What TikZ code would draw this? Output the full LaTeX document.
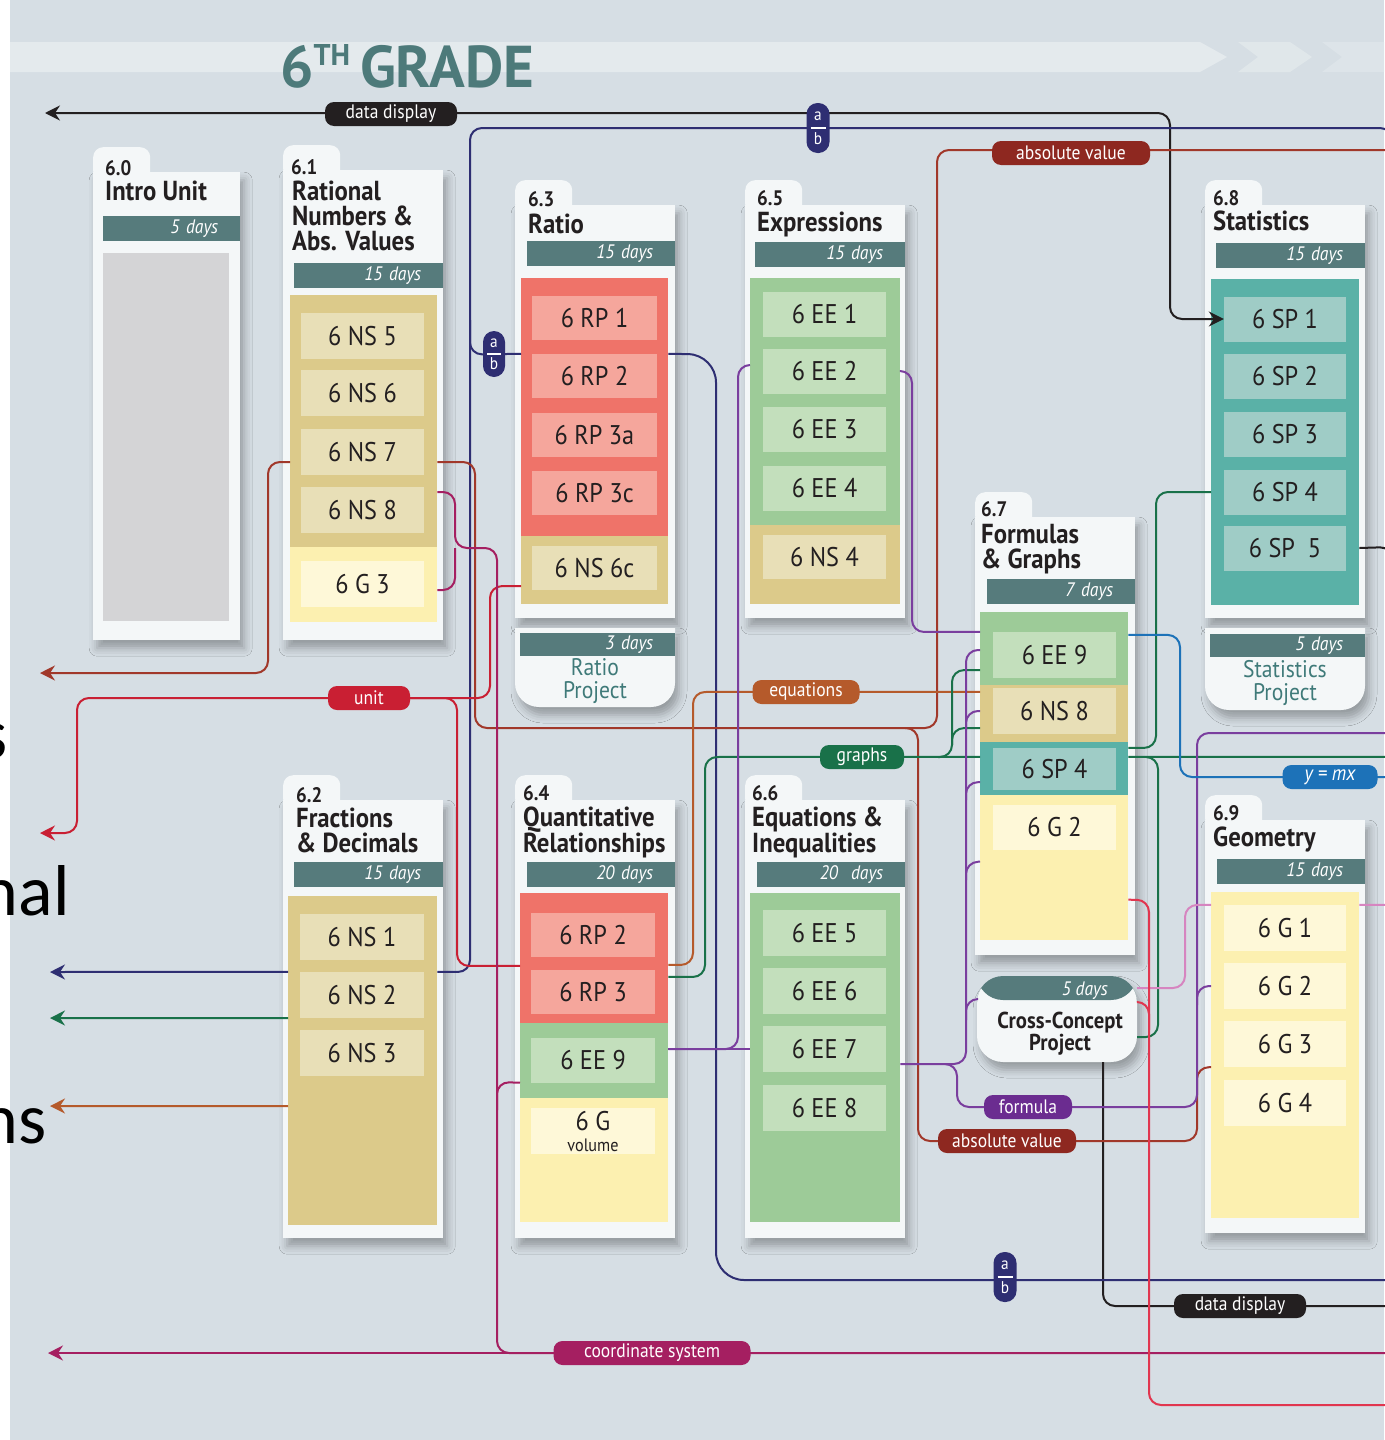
\documentclass[tikz,border=0pt]{standalone}
\usepackage{fontspec}
\setmainfont{PT Sans}[FakeStretch=0.9]
\newfontfamily\titlefont{PT Sans}
\newfontfamily\slidefont{Carlito}
\usepackage{xcolor}
\usepackage{tikz}
\usetikzlibrary{arrows.meta,shadows.blur}
\definecolor{bgc}{HTML}{D6DEE4}
\definecolor{bandc}{HTML}{E4EAED}
\definecolor{cardw}{HTML}{F4F7F8}
\definecolor{barc}{HTML}{567B7C}
\definecolor{ttl}{HTML}{4D7A7A}
\definecolor{projt}{HTML}{3F7A79}
\definecolor{ink}{HTML}{231F20}
\definecolor{introg}{HTML}{D4D4D6}
\definecolor{nsout}{HTML}{DCCA8A}
\definecolor{nsin}{HTML}{E8DFB7}
\definecolor{rpout}{HTML}{EF7369}
\definecolor{rpin}{HTML}{F5A69C}
\definecolor{eeout}{HTML}{9DCB98}
\definecolor{eein}{HTML}{C3DFBC}
\definecolor{spout}{HTML}{5AB1A7}
\definecolor{spin}{HTML}{9FCCC6}
\definecolor{gout}{HTML}{FCF0B0}
\definecolor{gin}{HTML}{FEF8D8}
\definecolor{cblk}{HTML}{231F20}
\definecolor{cnavy}{HTML}{2E2E72}
\definecolor{cabs}{HTML}{A1382A}
\definecolor{cabsd}{HTML}{8E2820}
\definecolor{cunit}{HTML}{C91F33}
\definecolor{ccoord}{HTML}{A51F61}
\definecolor{ceq}{HTML}{B55A2B}
\definecolor{cgr}{HTML}{197149}
\definecolor{cpur}{HTML}{7A3E9E}
\definecolor{cpurd}{HTML}{6B2C90}
\definecolor{cbl}{HTML}{1D72B8}
\definecolor{cpk}{HTML}{D685C0}
\definecolor{ccr}{HTML}{E1364F}
\tikzset{
  cardshadow/.style={blur shadow={shadow xshift=4pt,shadow yshift=-8pt,shadow blur radius=8pt,shadow opacity=30}},
  unittab/.style={rectangle,fill=cardw,rounded corners=10pt,inner sep=0pt,anchor=north west,
              minimum width=57pt,minimum height=34pt},
  unitbody/.style={rectangle,fill=cardw,inner sep=0pt,anchor=north west,cardshadow},
  block/.style={rectangle,inner sep=0pt,anchor=north west},
  unum/.style={anchor=base west,inner sep=0pt,text=ink,font=\bfseries\fontsize{21}{21}\selectfont},
  utitle/.style={anchor=base west,inner sep=0pt,text=ink,font=\bfseries\fontsize{27.5}{25}\selectfont},
  days/.style={rectangle,fill=barc,text=white,anchor=north west,minimum height=25pt,inner ysep=0pt,
              inner xsep=22pt,align=right,font=\itshape\fontsize{19.5}{19.5}\selectfont},
  std/.style={rectangle,inner sep=0pt,minimum width=123pt,minimum height=46pt,text=ink,
              font=\fontsize{27}{27}\selectfont},
  nsbox/.style={std,fill=nsin},
  rpbox/.style={std,fill=rpin,minimum height=44pt},
  eebox/.style={std,fill=eein,minimum height=45pt},
  spbox/.style={std,fill=spin,minimum width=122pt,minimum height=45pt},
  gbox/.style={std,fill=gin},
  projtext/.style={align=center,inner sep=0pt,text=projt,font=\fontsize{24}{23}\selectfont},
  tag/.style={rectangle,rounded corners=9pt,text=white,inner sep=0pt,minimum height=24pt,
              font=\fontsize{19.5}{19.5}\selectfont},
  fracbadge/.style={rectangle,rounded corners=11pt,fill=cnavy,text=white,inner sep=0pt,
              minimum width=23pt,minimum height=50pt,align=center,font=\fontsize{17}{17}\selectfont,
              path picture={\draw[white,line width=1.2pt] ([xshift=4pt]path picture bounding box.west)
                -- ([xshift=-4pt]path picture bounding box.east);}},
  link/.style={line width=2pt,rounded corners=12pt},
  frag/.style={anchor=base east,inner sep=0pt,text=black,font=\slidefont\fontsize{72}{72}\selectfont},
}
\begin{document}
\begin{tikzpicture}[x=1pt,y=-1pt,>={Stealth[length=15pt,width=15pt,inset=5pt]}]
  \useasboundingbox (0,0) rectangle (1384,1440);
  \fill[bgc] (0,0) rectangle (1384,1440);
  \fill[white] (0,0) rectangle (10,1440);

  % header band
  \fill[bandc] (10,42) -- (1200,42) -- (1227,57) -- (1200,72) -- (10,72) -- cycle;
  \fill[bandc!70!bgc] (1238,42) -- (1290,42) -- (1312,57) -- (1290,72) -- (1238,72) -- (1258,57) -- cycle;
  \fill[bandc!50!bgc] (1322,42) -- (1384,42) -- (1384,72) -- (1322,72) -- (1342,57) -- cycle;
  \node[anchor=base west,inner sep=0pt,text=ttl,font=\titlefont\bfseries\fontsize{59}{59}\selectfont] (grade) at (280,87)
    {6\raisebox{22pt}{\fontsize{30}{30}\selectfont TH}\,GRADE};

  % cut-off words at the left edge
  \node[frag] (frag1) at (8,758) {s};
  \node[frag] (frag2) at (70,915) {nal};
  \node[frag] (frag3) at (47,1143) {ns};

  % unit cards
  \node[unittab] (t60) at (93,147) {};
  \node[unitbody,minimum width=147pt,minimum height=468pt] (c60) at (93,172) {};
  \node[unittab] (t61) at (283,145) {};
  \node[unitbody,minimum width=160pt,minimum height=470pt] (c61) at (283,170) {};
  \node[unittab] (t63) at (515,180) {};
  \node[unitbody,minimum width=160pt,minimum height=413pt] (c63) at (515,205) {};
  \node[unittab] (t65) at (745,180) {};
  \node[unitbody,minimum width=160pt,minimum height=413pt] (c65) at (745,205) {};
  \node[unittab] (t68) at (1205,180) {};
  \node[unitbody,minimum width=160pt,minimum height=413pt] (c68) at (1205,205) {};
  \node[unittab] (t67) at (975,492) {};
  \node[unitbody,minimum width=160pt,minimum height=438pt] (c67) at (975,517) {};
  \node[unittab] (t62) at (283,775) {};
  \node[unitbody,minimum width=160pt,minimum height=438pt] (c62) at (283,800) {};
  \node[unittab] (t64) at (515,775) {};
  \node[unitbody,minimum width=160pt,minimum height=438pt] (c64) at (515,800) {};
  \node[unittab] (t66) at (745,775) {};
  \node[unitbody,minimum width=160pt,minimum height=438pt] (c66) at (745,800) {};
  \node[unittab] (t69) at (1205,795) {};
  \node[unitbody,minimum width=160pt,minimum height=413pt] (c69) at (1205,820) {};

  % project cards
  \fill[cardw,cardshadow] (515,628) -- (675,628) -- (675,683) arc[start angle=0,end angle=-90,radius=24pt]
    -- (539,707) arc[start angle=-90,end angle=-180,radius=24pt] -- cycle;
  \fill[cardw,cardshadow] (1205,628) -- (1365,628) -- (1365,686) arc[start angle=0,end angle=-90,radius=24pt]
    -- (1229,710) arc[start angle=-90,end angle=-180,radius=24pt] -- cycle;
  \node[rectangle,fill=cardw,rounded corners=26pt,minimum width=160pt,minimum height=86pt,inner sep=0pt,cardshadow,
        path picture={\fill[barc] ([yshift=-24pt]path picture bounding box.north west)
          rectangle (path picture bounding box.north east);}] (xproj) at (1057,1019) {};

  % titles
  \node[unum] (n60) at (105,175) {6.0};
  \node[utitle] (h60) at (105,200) {Intro Unit};
  \node[unum] (n61) at (291,174) {6.1};
  \node[utitle] (h61) at (292,200) {\vtop{\hbox{Rational}\hbox{Numbers \&}\hbox{Abs. Values}}};
  \node[unum] (n63) at (528,206) {6.3};
  \node[utitle] (h63) at (528,233) {Ratio};
  \node[unum] (n65) at (757,205) {6.5};
  \node[utitle] (h65) at (757,231) {Expressions};
  \node[unum] (n68) at (1213,205) {6.8};
  \node[utitle] (h68) at (1213,230) {Statistics};
  \node[unum] (n67) at (981,516) {6.7};
  \node[utitle] (h67) at (981,543) {\vtop{\hbox{Formulas}\hbox{\& Graphs}}};
  \node[unum] (n62) at (296,802) {6.2};
  \node[utitle] (h62) at (296,827) {\vtop{\hbox{Fractions}\hbox{\& Decimals}}};
  \node[unum] (n64) at (523,800) {6.4};
  \node[utitle] (h64) at (523,826) {\vtop{\hbox{Quantitative}\hbox{Relationships}}};
  \node[unum] (n66) at (752,800) {6.6};
  \node[utitle] (h66) at (752,826) {\vtop{\hbox{Equations \&}\hbox{Inequalities}}};
  \node[unum] (n69) at (1213,820) {6.9};
  \node[utitle] (h69) at (1213,846) {Geometry};

  % day bars
  \node[days,text width=93pt] (d60) at (103,216) {5 days};
  \node[days,text width=105pt] (d61) at (294,263) {15 days};
  \node[days,text width=104pt] (d63) at (527,241) {15 days};
  \node[days,text width=106pt] (d65) at (755,242) {15 days};
  \node[days,text width=105pt] (d68) at (1216,243) {15 days};
  \node[days,text width=104pt] (d67) at (987,579) {7 days};
  \node[days,text width=105pt] (d62) at (294,862) {15 days};
  \node[days,text width=104pt] (d64) at (527,862) {20 days};
  \node[days,text width=104pt] (d66) at (757,862) {20\ \ days};
  \node[days,text width=104pt] (d69) at (1217,859) {15 days};
  \node[days,text width=111pt,minimum height=23pt] (drp) at (520,633) {3 days};
  \node[days,text width=111pt,minimum height=23pt] (dsp) at (1210,634) {5 days};
  \node[anchor=base east,inner sep=0pt,text=white,font=\itshape\fontsize{19.5}{19.5}\selectfont] (dxp) at (1108,995) {5 days};

  % project texts
  \node[projtext] (rproj) at (595,681) {Ratio\\Project};
  \node[projtext] (sproj) at (1285,683) {Statistics\\Project};
  \node[align=center,inner sep=0pt,text=ink,font=\bfseries\fontsize{23}{22}\selectfont] (xprojl) at (1060,1034)
    {Cross-Concept\\Project};

  % content blocks
  \node[block,fill=introg,minimum width=126pt,minimum height=368pt] (b60) at (103,253) {};
  \node[block,fill=nsout,minimum width=147pt,minimum height=252pt] (b61a) at (290,295) {};
  \node[block,fill=gout,minimum width=147pt,minimum height=75pt] (b61b) at (290,547) {};
  \node[block,fill=rpout,minimum width=147pt,minimum height=258pt] (b63a) at (521,278) {};
  \node[block,fill=nsout,minimum width=147pt,minimum height=68pt] (b63b) at (521,536) {};
  \node[block,fill=eeout,minimum width=150pt,minimum height=247pt] (b65a) at (750,278) {};
  \node[block,fill=nsout,minimum width=150pt,minimum height=79pt] (b65b) at (750,525) {};
  \node[block,fill=spout,minimum width=148pt,minimum height=326pt] (b68) at (1211,279) {};
  \node[block,fill=eeout,minimum width=148pt,minimum height=73pt] (b67a) at (980,612) {};
  \node[block,fill=nsout,minimum width=148pt,minimum height=57pt] (b67b) at (980,685) {};
  \node[block,fill=spout,minimum width=148pt,minimum height=53pt] (b67c) at (980,742) {};
  \node[block,fill=gout,minimum width=148pt,minimum height=145pt] (b67d) at (980,795) {};
  \node[block,fill=nsout,minimum width=149pt,minimum height=329pt] (b62) at (288,896) {};
  \node[block,fill=rpout,minimum width=148pt,minimum height=130pt] (b64a) at (520,893) {};
  \node[block,fill=eeout,minimum width=148pt,minimum height=75pt] (b64b) at (520,1023) {};
  \node[block,fill=gout,minimum width=148pt,minimum height=124pt] (b64c) at (520,1098) {};
  \node[block,fill=eeout,minimum width=150pt,minimum height=329pt] (b66) at (750,893) {};
  \node[block,fill=gout,minimum width=148pt,minimum height=326pt] (b69) at (1211,892) {};

  % standards
  \node[nsbox] (ns5) at (362.5,336) {6 NS 5};
  \node[nsbox] (ns6) at (362.5,393) {6 NS 6};
  \node[nsbox] (ns7) at (362.5,452) {6 NS 7};
  \node[nsbox] (ns8) at (362.5,510) {6 NS 8};
  \node[gbox] (g3a) at (362.5,584) {6 G 3};
  \node[rpbox,minimum width=125pt] (rp1) at (594.5,318) {6 RP 1};
  \node[rpbox,minimum width=125pt] (rp2) at (594.5,376) {6 RP 2};
  \node[rpbox,minimum width=125pt] (rp3a) at (594.5,435) {6 RP 3a};
  \node[rpbox,minimum width=125pt] (rp3c) at (594.5,493) {6 RP 3c};
  \node[nsbox,minimum width=125pt,minimum height=44pt] (ns6c) at (594.5,568) {6 NS 6c};
  \node[eebox] (ee1) at (824.5,314) {6 EE 1};
  \node[eebox] (ee2) at (824.5,371) {6 EE 2};
  \node[eebox] (ee3) at (824.5,429) {6 EE 3};
  \node[eebox] (ee4) at (824.5,488) {6 EE 4};
  \node[nsbox,minimum height=44pt] (ns4) at (824.5,557) {6 NS 4};
  \node[spbox] (sp1) at (1285,319) {6 SP 1};
  \node[spbox] (sp2) at (1285,376) {6 SP 2};
  \node[spbox] (sp3) at (1285,434) {6 SP 3};
  \node[spbox] (sp4) at (1285,492) {6 SP 4};
  \node[spbox] (sp5) at (1285,548) {6 SP\ \ 5};
  \node[eebox,minimum height=46pt] (ee9a) at (1054.5,655) {6 EE 9};
  \node[nsbox] (ns8b) at (1054.5,711) {6 NS 8};
  \node[spbox,minimum width=123pt,minimum height=42pt] (sp4b) at (1054.5,769) {6 SP 4};
  \node[gbox,minimum height=45pt] (g2a) at (1054.5,827) {6 G 2};
  \node[nsbox,minimum width=124pt] (ns1) at (362,937) {6 NS 1};
  \node[nsbox,minimum width=124pt] (ns2) at (362,995) {6 NS 2};
  \node[nsbox,minimum width=124pt] (ns3) at (362,1053) {6 NS 3};
  \node[rpbox,minimum width=124pt] (rp2b) at (593,935) {6 RP 2};
  \node[rpbox,minimum width=124pt] (rp3) at (593,992) {6 RP 3};
  \node[eebox,minimum width=124pt] (ee9b) at (593,1060) {6 EE 9};
  \node[gbox,minimum width=124pt,align=center] (gvol) at (593,1131)
    {6 G\\[-6pt]{\fontsize{18}{18}\selectfont volume}};
  \node[eebox,minimum height=46pt] (ee5) at (824.5,933) {6 EE 5};
  \node[eebox,minimum height=46pt] (ee6) at (824.5,991) {6 EE 6};
  \node[eebox,minimum height=46pt] (ee7) at (824.5,1049) {6 EE 7};
  \node[eebox,minimum height=46pt] (ee8) at (824.5,1108) {6 EE 8};
  \node[gbox,minimum width=122pt] (g1) at (1285,928) {6 G 1};
  \node[gbox,minimum width=122pt] (g2) at (1285,986) {6 G 2};
  \node[gbox,minimum width=122pt] (g3) at (1285,1044) {6 G 3};
  \node[gbox,minimum width=122pt] (g4) at (1285,1103) {6 G 4};

  % free ends and junctions
  \coordinate (ddL) at (45,113);
  \coordinate (absL) at (40,673);
  \coordinate (unitL) at (40,833);
  \coordinate (navyL) at (50,972);
  \coordinate (grL) at (50,1018);
  \coordinate (eqL) at (50,1106);
  \coordinate (coordL) at (48,1353);
  \coordinate (absR) at (1400,150);
  \coordinate (purR) at (1400,733);
  \coordinate (grR) at (1400,757);
  \coordinate (ymxR) at (1400,777);
  \coordinate (pkR) at (1400,905);
  \coordinate (navyR) at (1400,1280);
  \coordinate (ddR) at (1400,1306);
  \coordinate (coordR) at (1400,1353);
  \coordinate (crR) at (1400,1405);
  \coordinate (absJ) at (905,728);
  \coordinate (grJ) at (938,757);
  \coordinate (grJ2) at (1146,757);
  \coordinate (purJ) at (945,1064);

  % data display
  \draw[link,cblk,<->] (ddL) -- (1170,113) |- (sp1.west);
  \draw[link,cblk] ([xshift=46pt]xproj.south) |- (ddR);
  \draw[link,cblk] (b68.east |- sp5) -- (1392,547) -- (1392,640);

  % a/b
  \draw[link,cnavy] (b62.east |- ns2.north) -- (470,972) -- (470,128) -- (1392,128) -- (1392,240);
  \draw[link,cnavy,->] (b62.west |- ns2.north) -- (navyL);
  \draw[link,cnavy] (b63a.west |- rp2.north) -- (470,354.5) -- (470,320);
  \draw[link,cnavy,rounded corners=28pt] (b63a.east |- rp2.north) -- (716,354.5) -- (716,1280) -- (navyR);

  % absolute value
  \draw[link,cabs] ([yshift=-10pt]b61a.east |- ns7) -- (475,462) -- (475,728) -- (937,728) -- (937,150) -- (absR);
  \draw[link,cabs] (absJ) -- (918,728) -- (918,1141) -- (1197,1141) -- (1197,1067) -- (b69.west |- g3.south);
  \draw[link,cabs,->] ([yshift=-10pt]b61a.west |- ns7) -- (268,462) -- (268,673) -- (absL);

  % unit
  \draw[link,cunit,->] ([yshift=4pt]b63b.west |- ns6c.south) -- (490,586) -- (490,698) -- (77,698) -- (77,833) -- (unitL);
  \draw[link,cunit] (410,698) -- (457,698) -- (457,966) -- ([yshift=4pt]b64a.west |- rp3.north);

  % coordinate system
  \draw[link,ccoord] ([yshift=18pt]b61a.east |- ns8) -- (455,492) -- (455,548) -- (497,548) -- (497,1353) -- (coordR);
  \draw[link,ccoord] ([yshift=-6pt]b61b.east |- g3a) -- (455,590) -- (455,548);
  \draw[link,ccoord] (b64b.west |- ee9b.south) -- (497,1082) -- (497,1110);
  \draw[link,ccoord,->] (600,1353) -- (coordL);

  % equations
  \draw[link,ceq] ([yshift=-4pt]b67b.west |- ns8b.north) -- (693,692) -- (693,965) -- ([yshift=5pt]b64a.east |- rp3.north);
  \draw[link,ceq,->] ([yshift=-30pt]b62.west |- ns3.south) -- (eqL);

  % graphs
  \draw[link,cgr] ([yshift=-7pt]b64a.east |- rp3.north) -- (705,977) -- (705,757) -- ([yshift=-9pt]b67c.west |- sp4b.north);
  \draw[link,cgr] (grJ) -- (952,757) -- (952,670) -- ([yshift=8pt]b67a.west |- ee9a.south);
  \draw[link,cgr] (952,745) -- (952,728) -- ([yshift=6pt]b67b.west |- ns8b.south);
  \draw[link,cgr] ([yshift=-9pt]b67c.east |- sp4b.north) -- (grR);
  \draw[link,cgr] (grJ2) -- (1158,757) -- (1158,1037) -- ([yshift=-18pt]xproj.east);
  \draw[link,cgr] (b68.west |- sp4) -- (1156,492) -- (1156,748) -- (b67c.east |- sp4b.north);
  \draw[link,cgr,->] (b62.west |- ns2.south) -- (grL);

  % formula
  \draw[link,cpur] ([yshift=6pt]b65a.west |- ee2) -- (738,365) -- (738,1049) -- (b64b.east |- ee7);
  \draw[link,cpur] (b64b.east |- ee7) -- (b66.west |- ee7);
  \draw[link,cpur] (b65a.east |- ee2) -- (912,371) -- (912,632) -- (b67a.west |- ee9a.north);
  \draw[link,cpur] ([yshift=-15pt]b66.east |- ee7) -- (966,1064) -- (966,650) -- ([yshift=5pt]b67a.west |- ee9a);
  \draw[link,cpur] (966,730) -- (966,711) -- (b67b.west |- ns8b);
  \draw[link,cpur] (966,800) -- (966,782) -- ([yshift=8pt]b67c.west |- sp4b.south);
  \draw[link,cpur] (966,880) -- (966,862) -- ([yshift=-12pt]b67d.west |- g2a.south);
  \draw[link,cpur] (966,1020) -- (966,999) -- ([yshift=20pt]xproj.west);
  \draw[link,cpur] (purJ) -- (957,1064) -- (957,1107) -- (1197,1107) -- (1197,733) -- (purR);
  \draw[link,cpur] (1197,1005) -- (1197,986) -- (b69.west |- g2);

  % y = mx
  \draw[link,cbl] ([yshift=-3pt]b67a.east |- ee9a.north) -- (1180,635) -- (1180,777) -- (ymxR);

  % pink and crimson
  \draw[link,cpk] ([yshift=31pt]xproj.east) -- (1185,988) -- (1185,905) -- (b69.west |- g1.north);
  \draw[link,cpk] (b69.east |- g1.north) -- (pkR);
  \draw[link,ccr] ([yshift=-32pt]b67d.east) -- (1149,900) -- (1149,1405) -- (crR);
  \draw[link,ccr] ([yshift=17pt]xproj.east) -- (1149,1002) -- (1149,1030);

  % badges
  \node[tag,fill=cblk,minimum width=132pt] (ddtop) at (391,114) {data display};
  \node[tag,fill=cblk,minimum width=132pt] (ddbot) at (1240,1306) {data display};
  \node[tag,fill=cabsd,minimum width=158pt] (abstop) at (1071,153) {absolute value};
  \node[tag,fill=cabsd,minimum width=138pt] (absbot) at (1007,1141) {absolute value};
  \node[tag,fill=cunit,minimum width=82pt] (unit) at (369,698) {unit};
  \node[tag,fill=ceq,minimum width=107pt] (eqn) at (806,692) {equations};
  \node[tag,fill=cgr,minimum width=84pt] (graphs) at (862,757) {graphs};
  \node[tag,fill=cpurd,minimum width=88pt] (formula) at (1028,1107) {formula};
  \node[tag,fill=cbl,minimum width=95pt,font=\itshape\fontsize{21}{21}\selectfont] (ymx) at (1330,777) {y = mx};
  \node[tag,fill=ccoord,minimum width=197pt] (coord) at (652,1353) {coordinate system};
  \node[fracbadge] (abtop) at (818,128) {a\\[7pt]b};
  \node[fracbadge,minimum width=22pt,minimum height=46pt] (ableft) at (494,354) {a\\[5pt]b};
  \node[fracbadge] (abbot) at (1005,1277) {a\\[7pt]b};
\end{tikzpicture}
\end{document}
